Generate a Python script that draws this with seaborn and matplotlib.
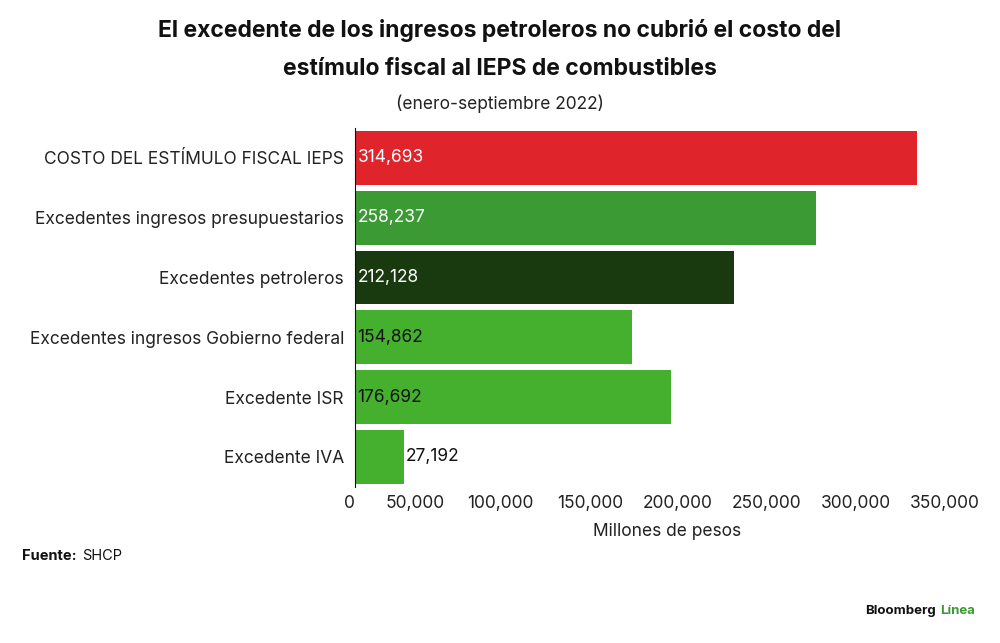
import matplotlib.pyplot as plt
import seaborn as sns
import pandas as pd

categories = [
    "COSTO DEL ESTÍMULO FISCAL IEPS",
    "Excedentes ingresos presupuestarios",
    "Excedentes petroleros",
    "Excedentes ingresos Gobierno federal",
    "Excedente ISR",
    "Excedente IVA",
]
values = [314693, 258237, 212128, 154862, 176692, 27192]
colors = ["#e0242b", "#3b9a33", "#19390f", "#44b02e", "#44b02e", "#44b02e"]
label_colors = ["white", "white", "white", "#111111", "#111111", "#111111"]
ticks = [0, 50000, 100000, 150000, 200000, 250000, 300000, 350000]

df = pd.DataFrame({"cat": categories, "val": values})

sns.set_style("white")
plt.rcParams["font.family"] = ["Inter", "DejaVu Sans"]

fig = plt.figure(figsize=(10, 6.43), dpi=100)
ax = fig.add_axes([0.355, 0.243, 0.625, 0.558])
sns.barplot(data=df, x="val", y="cat", hue="cat", palette=colors, legend=False,
            width=0.9, saturation=1, linewidth=0, ax=ax)
ax.set_xlim(0, 350000)
ax.set_xticks(ticks)
ax.set_xticklabels([f"{t:,}" for t in ticks], ha="right", fontsize=12.5, color="#222222")
ax.tick_params(axis="x", length=0, pad=6)
ax.tick_params(axis="y", length=0, labelsize=12.5, labelcolor="#222222", pad=8)
for s in ["top", "right", "bottom"]:
    ax.spines[s].set_visible(False)
ax.spines["left"].set_color("#111111")
ax.set_ylabel("")
ax.set_xlabel("Millones de pesos", fontsize=12.5, color="#222222", labelpad=8)

for i, (v, c) in enumerate(zip(values, label_colors)):
    if v > 40000:
        ax.text(1500, i, f"{v:,}", va="center", ha="left", color=c, fontsize=12.5)
    else:
        ax.text(v + 1500, i, f"{v:,}", va="center", ha="left", color=c, fontsize=12.5)

fig.text(0.5, 0.952, "El excedente de los ingresos petroleros no cubrió el costo del",
         ha="center", va="center", fontsize=16.5, fontweight="bold", color="#111111")
fig.text(0.5, 0.892, "estímulo fiscal al IEPS de combustibles",
         ha="center", va="center", fontsize=16.5, fontweight="bold", color="#111111")
fig.text(0.5, 0.838, "(enero-septiembre 2022)", ha="center", va="center",
         fontsize=12.5, color="#222222")
fig.text(0.022, 0.135, "Fuente:", fontsize=10.5, fontweight="bold", color="#111111", va="center")
fig.text(0.082, 0.135, "SHCP", fontsize=10.5, color="#111111", va="center")
fig.text(0.865, 0.05, "Bloomberg", fontsize=9.5, fontweight="bold", color="#111111", va="center")
fig.text(0.94, 0.05, "Línea", fontsize=9.5, fontweight="bold", color="#3b9a33", va="center")

fig.savefig("out.png", dpi=100)
